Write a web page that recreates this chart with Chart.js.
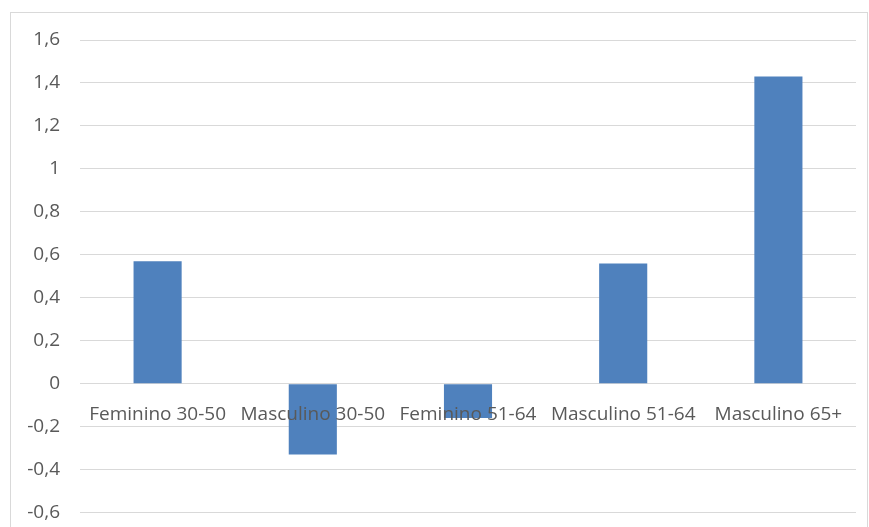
<!DOCTYPE html>
<html>
<head>
<meta charset="utf-8">
<script src="https://cdn.jsdelivr.net/npm/chart.js@4"></script>
<style>
  html, body { margin: 0; padding: 0; background: #fff; overflow: hidden; }
  #wrap { width: 869px; height: 544px; position: relative; }
</style>
</head>
<body>
<div id="wrap"><canvas id="grafico"></canvas></div>
<script>
const categorias = ['Feminino 30-50', 'Masculino 30-50', 'Feminino 51-64', 'Masculino 51-64', 'Masculino 65+'];
const valores = [0.57, -0.33, -0.16, 0.56, 1.43];
const eixoMin = -0.6;
const eixoMax = 1.6;
const passo = 0.2;

// moldura cinza em volta do gráfico
const moldura = {
    id: 'moldura',
    beforeDraw(chart) {
        const c = chart.ctx;
        c.save();
        c.strokeStyle = '#d9d9d9';
        c.lineWidth = 1;
        c.strokeRect(10.5, 12.5, 857, 525);
        c.restore();
    }
};

const fonte = { family: 'Open Sans', size: 19 };

const ctx = document.getElementById('grafico').getContext('2d');

new Chart(ctx, {
    type: 'bar',
    data: {
        labels: categorias,
        datasets: [{
            data: valores,
            backgroundColor: '#4f81bd',
            borderWidth: 0,
            categoryPercentage: 1,
            barPercentage: 0.31
        }]
    },
    options: {
        responsive: true,
        maintainAspectRatio: false,
        animation: false,
        layout: {
            padding: { top: 40, right: 13, bottom: 0, left: 0 }
        },
        scales: {
            x: {
                position: { y: 0 }, // rótulos junto à linha do zero
                grid: { display: false, drawTicks: false },
                border: { display: false },
                ticks: {
                    z: 1, // textos por cima das barras
                    color: '#595959',
                    font: fonte,
                    padding: 19,
                    autoSkip: false,
                    maxRotation: 0
                }
            },
            y: {
                min: eixoMin,
                max: eixoMax,
                afterFit: s => { s.width = 80; },
                grid: { color: '#d9d9d9', lineWidth: 1, drawTicks: false },
                border: { display: false },
                ticks: {
                    stepSize: passo,
                    color: '#595959',
                    font: fonte,
                    padding: 20,
                    callback: v => Number(Number(v).toFixed(1)).toString().replace('.', ',')
                }
            }
        },
        plugins: {
            legend: { display: false },
            tooltip: { enabled: false }
        }
    },
    plugins: [moldura]
});
</script>
</body>
</html>
